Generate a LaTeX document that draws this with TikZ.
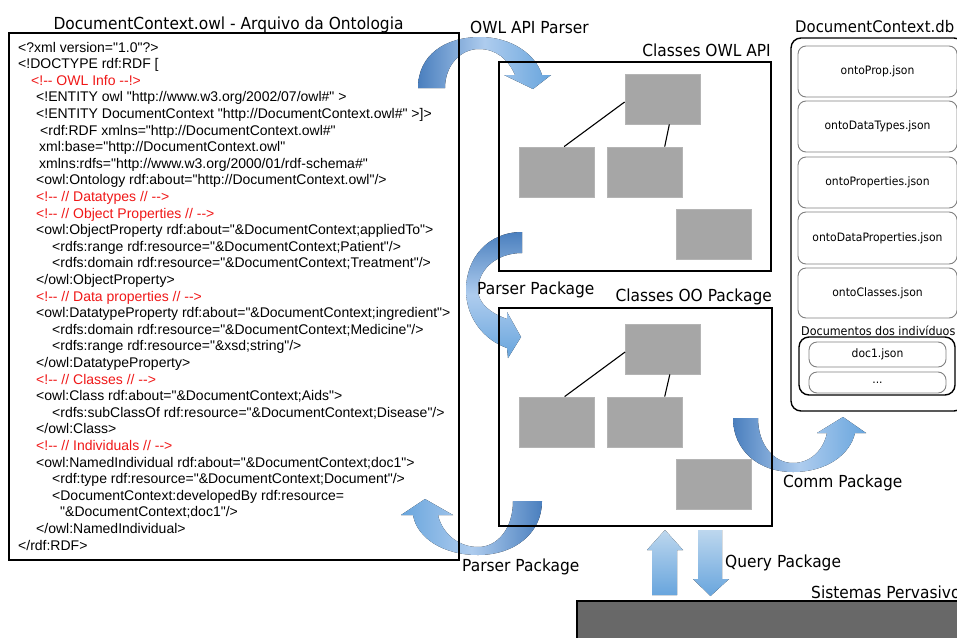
\documentclass[tikz,border=0pt]{standalone}
\usepackage{fontspec}
\usetikzlibrary{calc}
\newfontfamily\labelfont{DejaVu Sans}[FakeStretch=0.93]
\newfontfamily\codefont{Liberation Sans}[Ligatures=TeXOff]

\definecolor{commentred}{HTML}{F01818}
\definecolor{boxgray}{HTML}{A6A6A6}
\definecolor{boxedge}{HTML}{B4B4B4}
\definecolor{sysgray}{HTML}{686868}
\definecolor{jsonedge}{HTML}{808080}
\definecolor{arrowdark}{HTML}{4A7FBE}
\definecolor{arrowmid}{HTML}{68A5DD}
\definecolor{arrowlight}{HTML}{AECCEE}
\definecolor{arrowpale}{HTML}{BDD7EE}

\tikzset{
  code/.style={anchor=base west, inner sep=0pt, text=black,
    font=\codefont\fontsize{14}{16}\selectfont},
  comment/.style={code, text=commentred},
  heading/.style={inner sep=0pt, font=\labelfont\fontsize{16.6}{19}\selectfont},
  smallhead/.style={inner sep=0pt, font=\labelfont\fontsize{12}{14}\selectfont},
  frame/.style={draw=black, line width=1.6pt},
  cls/.style={fill=boxgray, draw=boxedge, line width=0.8pt,
    minimum width=75pt, minimum height=50pt, inner sep=0pt},
  link/.style={draw=black, line width=1.1pt},
  jbox/.style={draw=jsonedge, line width=0.9pt, rounded corners=8pt,
    minimum width=159pt, inner sep=0pt,
    font=\labelfont\fontsize{11.6}{13}\selectfont},
}

\begin{document}
\begin{tikzpicture}[x=1pt,y=-1pt]
\useasboundingbox (0,0) rectangle (957,637);
\clip (0,0) rectangle (957,637);
\fill[white] (0,0) rectangle (957,637);

% ---- curved block arrows (drawn first, frames sit on top) ----
% OWL API Parser
\fill[left color=arrowdark, right color=arrowmid, middle color=arrowlight]
  (418,88) .. controls (418,55) and (445,37) .. (480,37)
  .. controls (512,37) and (536,55) .. (542,75)
  -- (551,75) -- (533,89) -- (504,75) -- (515,75)
  .. controls (508,59) and (496,49) .. (479,49)
  .. controls (460,49) and (445,66) .. (445,88) -- cycle;
% Parser Package (OWL API classes -> OO classes)
\fill[top color=arrowdark, bottom color=arrowmid, middle color=arrowlight]
  (522,232) .. controls (488,232) and (466,258) .. (466,290)
  .. controls (466,318) and (484,340) .. (507,348)
  -- (508,358) -- (521,337) -- (507,312) -- (507,319)
  .. controls (490,313) and (478,303) .. (478,290)
  .. controls (478,270) and (496,253) .. (522,253) -- cycle;
% Parser Package (OO classes -> ontology file)
\fill[left color=arrowmid, right color=arrowdark, middle color=arrowlight]
  (542,501) .. controls (542,533) and (515,555) .. (478,555)
  .. controls (443,555) and (417,538) .. (413,515)
  -- (401,515) -- (425,499) -- (453,515) -- (438,515)
  .. controls (442,533) and (458,547) .. (478,547)
  .. controls (498,547) and (513,528) .. (513,501) -- cycle;
% Comm Package
\fill[left color=arrowdark, right color=arrowmid, middle color=arrowlight]
  (733,418) .. controls (733,450) and (758,472) .. (793,472)
  .. controls (826,472) and (850,455) .. (855,433)
  -- (866,433) -- (843,417) -- (817,433) -- (827,433)
  .. controls (823,451) and (810,463) .. (793,463)
  .. controls (774,463) and (758,445) .. (758,418) -- cycle;
% Query Package (up and down)
\fill[top color=arrowpale, bottom color=arrowmid]
  (652,595) -- (652,550) -- (647,550) -- (665,530) -- (683,550)
  -- (677,550) -- (677,595) -- cycle;
\fill[top color=arrowpale, bottom color=arrowmid]
  (698,530) -- (722,530) -- (722,579) -- (729,579) -- (710.5,596)
  -- (693,579) -- (698,579) -- cycle;

% ---- ontology file ----
\node[heading, anchor=base] (owltitle) at (228.5,29)
  {DocumentContext.owl - Arquivo da Ontologia};
\draw[frame, line width=2.2pt] (9,33) rectangle (459,560);

\node[code]    (l1)  at (18,52)     {<?xml version="1.0"?>};
\node[code]    (l2)  at (18,68.6)   {<!DOCTYPE rdf:RDF [};
\node[comment] (l3)  at (31,85.2)   {<!-- OWL Info --!>};
\node[code]    (l4)  at (36,101.8)  {<!ENTITY owl "http://www.w3.org/2002/07/owl\#" >};
\node[code]    (l5)  at (36,118.4)  {<!ENTITY DocumentContext "http://DocumentContext.owl\#" >]>};
\node[code]    (l6)  at (40,135)    {<rdf:RDF xmlns="http://DocumentContext.owl\#"};
\node[code]    (l7)  at (39,151.6)  {xml:base="http://DocumentContext.owl"};
\node[code]    (l8)  at (39,168.2)  {xmlns:rdfs="http://www.w3.org/2000/01/rdf-schema\#"};
\node[code]    (l9)  at (36,184.8)  {<owl:Ontology rdf:about="http://DocumentContext.owl"/>};
\node[comment] (l10) at (36,201.4)  {<!-- // Datatypes // -->};
\node[comment] (l11) at (36,218)    {<!-- // Object Properties // -->};
\node[code]    (l12) at (36,234.6)  {<owl:ObjectProperty rdf:about="\&DocumentContext;appliedTo">};
\node[code]    (l13) at (52,251.2)  {<rdfs:range rdf:resource="\&DocumentContext;Patient"/>};
\node[code]    (l14) at (52,267.8)  {<rdfs:domain rdf:resource="\&DocumentContext;Treatment"/>};
\node[code]    (l15) at (36,284.4)  {</owl:ObjectProperty>};
\node[comment] (l16) at (36,301)    {<!-- // Data properties // -->};
\node[code]    (l17) at (36,317.6)  {<owl:DatatypeProperty rdf:about="\&DocumentContext;ingredient">};
\node[code]    (l18) at (52,334.2)  {<rdfs:domain rdf:resource="\&DocumentContext;Medicine"/>};
\node[code]    (l19) at (52,350.8)  {<rdfs:range rdf:resource="\&xsd;string"/>};
\node[code]    (l20) at (36,367.4)  {</owl:DatatypeProperty>};
\node[comment] (l21) at (36,384)    {<!-- // Classes // -->};
\node[code]    (l22) at (36,400.6)  {<owl:Class rdf:about="\&DocumentContext;Aids">};
\node[code]    (l23) at (52,417.2)  {<rdfs:subClassOf rdf:resource="\&DocumentContext;Disease"/>};
\node[code]    (l24) at (36,433.8)  {</owl:Class>};
\node[comment] (l25) at (36,450.4)  {<!-- // Individuals // -->};
\node[code]    (l26) at (36,467)    {<owl:NamedIndividual rdf:about="\&DocumentContext;doc1">};
\node[code]    (l27) at (52,483.6)  {<rdf:type rdf:resource="\&DocumentContext;Document"/>};
\node[code]    (l28) at (52,500.2)  {<DocumentContext:developedBy rdf:resource=};
\node[code]    (l29) at (60,516.8)  {"\&DocumentContext;doc1"/>};
\node[code]    (l30) at (36,533.4)  {</owl:NamedIndividual>};
\node[code]    (l31) at (18,550)    {</rdf:RDF>};

% ---- OWL API classes ----
\node[heading, anchor=base east] (apititle) at (771,56) {Classes OWL API};
\draw[frame] (499,62) rectangle (771,271);
\node[cls] (a1) at (662.5,99)  {};
\node[cls] (a2) at (556.5,172) {};
\node[cls] (a3) at (645,172)   {};
\node[cls] (a4) at (714,234)   {};
\draw[link] ([yshift=-3pt]a1.west) -- ($(a2.north west)!0.6!(a2.north east)$);
\draw[link] ($(a1.south west)!0.59!(a1.south east)$) -- ($(a3.north west)!0.76!(a3.north east)$);

% ---- OO package classes ----
\node[heading, anchor=base east] (ootitle) at (772,301) {Classes OO Package};
\draw[frame] (499,308) rectangle (772,526);
\node[cls] (b1) at (663,349)   {};
\node[cls] (b2) at (557,422)   {};
\node[cls] (b3) at (645,422)   {};
\node[cls] (b4) at (714,484.5) {};
\draw[link] ([yshift=-3pt]b1.west) -- ($(b2.north west)!0.6!(b2.north east)$);
\draw[link] ($(b1.south west)!0.59!(b1.south east)$) -- ($(b3.north west)!0.76!(b3.north east)$);

% ---- document database ----
\node[heading, anchor=base west, font=\labelfont\fontsize{16}{19}\selectfont]
  (dbtitle) at (795,32) {DocumentContext.db};
\draw[frame, line width=1.4pt, rounded corners=10pt] (791,38) rectangle (964,411);
\node[jbox, minimum height=51pt] (j1) at (877.5,71.5)  {ontoProp.json};
\node[jbox, minimum height=51pt] (j2) at (877.5,126.5) {ontoDataTypes.json};
\node[jbox, minimum height=51pt] (j3) at (877.5,182.5) {ontoProperties.json};
\node[jbox, minimum height=52pt] (j4) at (877.5,238)   {ontoDataProperties.json};
\node[jbox, minimum height=50pt] (j5) at (877.5,293)   {ontoClasses.json};
\node[smallhead, anchor=base west] (docs) at (801,335) {Documentos dos indivíduos};
\draw[frame, line width=1.4pt, rounded corners=10pt] (799,337) rectangle (955,395);
\node[jbox, minimum width=137pt, minimum height=25pt] (d1) at (877.5,354.5) {doc1.json};
\node[jbox, minimum width=137pt, minimum height=21pt] (d2) at (877.5,382.5) {...};

% ---- pervasive systems ----
\node[heading, anchor=base west] (systitle) at (811,598) {Sistemas Pervasivos};
\draw[fill=sysgray, draw=black, line width=1.5pt] (577,601) rectangle (975,650);

% ---- arrow labels ----
\node[heading, anchor=base west] (owlapi)  at (470,33)  {OWL API Parser};
\node[heading, anchor=base west] (parse1)  at (477,294) {Parser Package};
\node[heading, anchor=base west] (parse2)  at (462,571) {Parser Package};
\node[heading, anchor=base west] (comm)    at (783,487) {Comm Package};
\node[heading, anchor=base west] (query)   at (725,567) {Query Package};
\end{tikzpicture}
\end{document}
